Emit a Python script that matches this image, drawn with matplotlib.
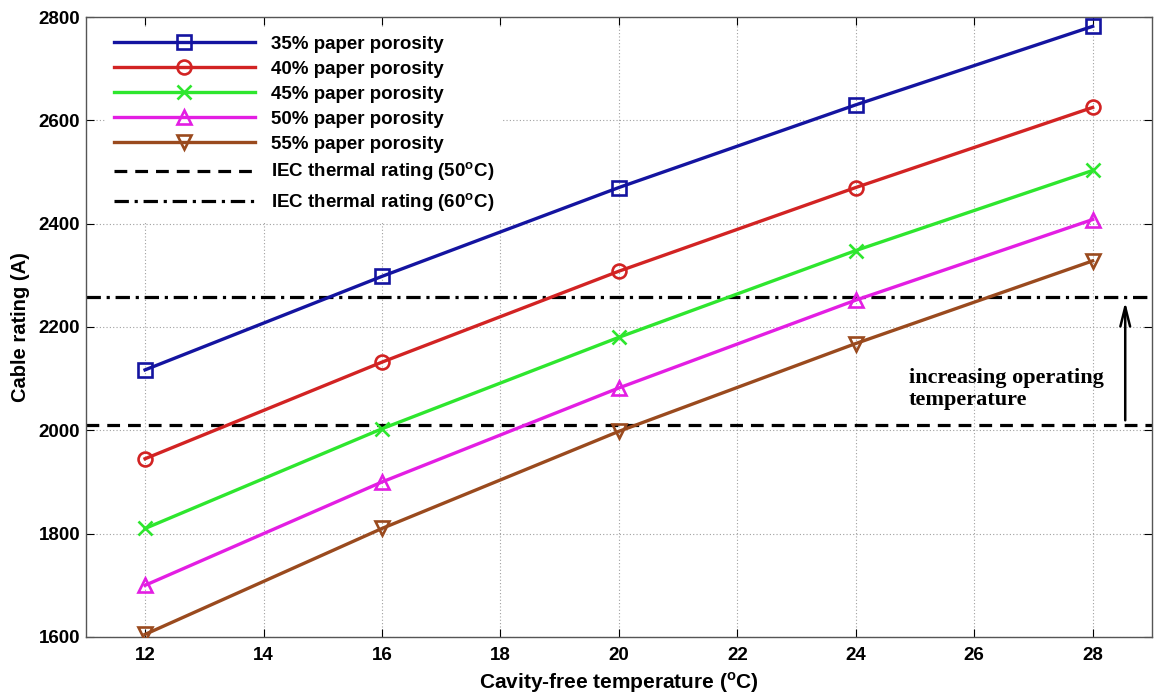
import matplotlib
matplotlib.use("Agg")
import matplotlib.pyplot as plt

# Cavity-free temperature (degC) and cable rating (A) for each paper porosity
temperature = [12, 16, 20, 24, 28]
rating_35 = [2117, 2298, 2470, 2630, 2782]
rating_40 = [1945, 2132, 2308, 2470, 2625]
rating_45 = [1810, 2003, 2180, 2348, 2503]
rating_50 = [1700, 1900, 2082, 2252, 2408]
rating_55 = [1605, 1810, 1998, 2168, 2328]

iec_50 = 2010
iec_60 = 2258

series_labels = ["35% paper porosity", "40% paper porosity", "45% paper porosity",
                 "50% paper porosity", "55% paper porosity"]
iec_labels = ["IEC thermal rating (50$^{\\mathregular{o}}$C)",
              "IEC thermal rating (60$^{\\mathregular{o}}$C)"]

plt.rcParams["font.family"] = ["Liberation Sans", "DejaVu Sans"]

fig = plt.figure(figsize=(11.6, 6.95), dpi=100)
ax = fig.add_axes([0.074, 0.0835, 0.919, 0.892])

styles = [("#1414a0", "s"), ("#d22323", "o"), ("#2ee62e", "x"),
          ("#e31ee3", "^"), ("#9a4a1e", "v")]
series = [rating_35, rating_40, rating_45, rating_50, rating_55]
for vals, (c, m), lab in zip(series, styles, series_labels):
    ax.plot(temperature, vals, color=c, lw=2.4, marker=m, markersize=10,
            markerfacecolor="none", markeredgecolor=c, markeredgewidth=1.9,
            label=lab, zorder=3)

ax.axhline(iec_50, color="black", lw=2.3, ls=(0, (4, 2.5)), label=iec_labels[0], zorder=2)
ax.axhline(iec_60, color="black", lw=2.3, ls=(0, (4.5, 1.8, 1, 1.8)), label=iec_labels[1], zorder=2)

ax.annotate("", xy=(28.55, iec_60 - 4), xytext=(28.55, iec_50 + 4),
            arrowprops=dict(arrowstyle="->,head_length=1.4,head_width=0.35",
                            color="black", lw=1.8), zorder=4)
ax.text(24.9, 2080, "increasing operating\ntemperature", family="Liberation Serif",
        fontweight="bold", fontsize=16, ha="left", va="center", linespacing=1.1)

ax.set_xlim(11, 29)
ax.set_ylim(1600, 2800)
ax.set_xticks(range(12, 29, 2))
ax.set_yticks(range(1600, 2801, 200))
ax.grid(True, ls=(0, (1, 2)), color="#a0a0a0", lw=0.8, zorder=1)
ax.tick_params(direction="in", length=6, labelsize=13.5, width=0.8,
               top=True, right=True)
ax.tick_params(axis="x", pad=7)
ax.tick_params(axis="y", pad=4)
for lbl in ax.get_xticklabels() + ax.get_yticklabels():
    lbl.set_fontweight("bold")
for s in ax.spines.values():
    s.set_color("#555555")
    s.set_linewidth(1.0)

ax.set_xlabel("Cavity-free temperature ($^{\\mathregular{o}}$C)", fontsize=15,
              fontweight="bold", labelpad=5)
ax.set_ylabel("Cable rating (A)", fontsize=14.5, fontweight="bold", labelpad=6)

leg = ax.legend(loc="upper left", bbox_to_anchor=(0.015, 0.9895), frameon=True,
                fancybox=False, edgecolor="none", facecolor="white", framealpha=1,
                fontsize=13.5, handlelength=7.5, handletextpad=0.85,
                labelspacing=0.42, borderpad=0.45, borderaxespad=0.2)
for t in leg.get_texts():
    t.set_fontweight("bold")
# white legend box hides the grid but stays beneath the data lines
leg.set_zorder(2.5)

fig.savefig("out.png", dpi=100)
